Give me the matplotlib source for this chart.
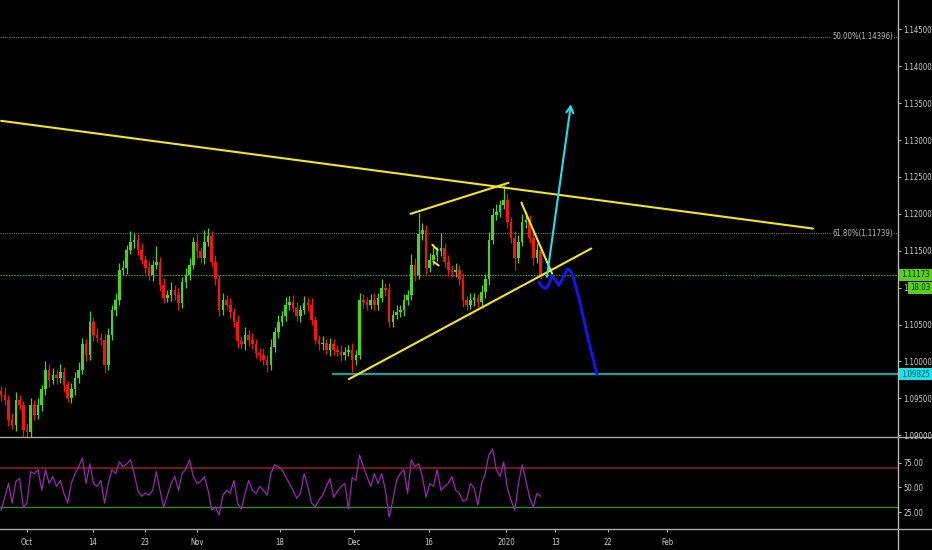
import matplotlib
matplotlib.use("Agg")
import matplotlib.pyplot as plt
import matplotlib.transforms as mtransforms
from matplotlib.patches import Rectangle
from matplotlib.lines import Line2D
import numpy as np

plt.rcParams["font.family"] = ["DejaVu Sans"]
plt.rcParams["font.stretch"] = "condensed"

# ---------------- data ----------------
first_open = 1.0960
closes = [
    1.0955, 1.0948, 1.0921, 1.0914, 1.0948, 1.0941, 1.0907, 1.0904, 1.0941, 1.0928,
    1.0941, 1.0962, 1.0989, 1.0975, 1.0982, 1.0978, 1.0986, 1.0968, 1.0951, 1.0962,
    1.0978, 1.0989, 1.1023, 1.1009, 1.1054, 1.1036, 1.1032, 1.1029, 1.0995, 1.1036,
    1.1070, 1.1083, 1.1124, 1.1127, 1.1151, 1.1162, 1.1165, 1.1151, 1.1138, 1.1127,
    1.1117, 1.1131, 1.1135, 1.1104, 1.1086, 1.1090, 1.1097, 1.1090, 1.1079, 1.1108,
    1.1117, 1.1131, 1.1162, 1.1149, 1.1140, 1.1162, 1.1170, 1.1135, 1.1111, 1.1070,
    1.1083, 1.1077, 1.1067, 1.1054, 1.1027, 1.1023, 1.1036, 1.1029, 1.1023, 1.1012,
    1.1009, 1.1002, 1.0995, 1.1020, 1.1040, 1.1054, 1.1062, 1.1077, 1.1081, 1.1073,
    1.1062, 1.1070, 1.1079, 1.1077, 1.1056, 1.1029, 1.1023, 1.1025, 1.1016, 1.1023,
    1.1016, 1.1013, 1.1009, 1.1013, 1.1016, 1.1002, 1.1009, 1.1083, 1.1081, 1.1077,
    1.1083, 1.1077, 1.1086, 1.1100, 1.1097, 1.1054, 1.1063, 1.1067, 1.1070, 1.1083,
    1.1090, 1.1131, 1.1117, 1.1172, 1.1178, 1.1127, 1.1138, 1.1144, 1.1149, 1.1154,
    1.1135, 1.1124, 1.1121, 1.1124, 1.1111, 1.1083, 1.1077, 1.1083, 1.1086, 1.1081,
    1.1094, 1.1111, 1.1165, 1.1199, 1.1203, 1.1212, 1.1219, 1.1189, 1.1167, 1.1140,
    1.1162, 1.1189, 1.1192, 1.1167, 1.1140, 1.1151, 1.11173,
]
# wick lengths in pips above / below the candle body
upper_wick_pips = [
    7, 10, 6, 9, 11, 7, 6, 9, 10, 7,
    9, 6, 11, 7, 9, 6, 10, 7, 6, 9,
    7, 10, 9, 7, 14, 6, 9, 7, 10, 9,
    7, 10, 9, 11, 7, 15, 9, 7, 10, 6,
    9, 7, 22, 6, 9, 7, 10, 6, 9, 7,
    10, 9, 7, 10, 6, 16, 11, 7, 9, 6,
    10, 7, 9, 6, 9, 7, 10, 6, 9, 7,
    6, 9, 7, 10, 7, 9, 6, 10, 7, 9,
    7, 6, 10, 7, 9, 6, 7, 10, 6, 9,
    7, 6, 9, 7, 6, 9, 7, 10, 9, 6,
    9, 10, 7, 11, 6, 9, 7, 10, 6, 9,
    7, 14, 9, 29, 10, 7, 9, 11, 6, 20,
    7, 9, 6, 10, 7, 9, 6, 10, 7, 6,
    9, 7, 11, 9, 10, 7, 20, 9, 7, 10,
    9, 11, 10, 7, 9, 10, 5,
]
lower_wick_pips = [
    8, 7, 9, 6, 8, 7, 9, 6, 7, 8,
    6, 8, 7, 9, 6, 8, 7, 9, 6, 7,
    8, 7, 6, 9, 7, 8, 6, 7, 11, 6,
    7, 8, 6, 7, 9, 6, 8, 7, 6, 9,
    7, 8, 6, 9, 7, 6, 8, 7, 9, 6,
    8, 7, 6, 9, 7, 8, 6, 7, 8, 9,
    7, 6, 8, 7, 9, 6, 7, 8, 6, 7,
    8, 7, 9, 6, 7, 8, 6, 7, 8, 6,
    7, 8, 6, 9, 7, 6, 8, 7, 6, 8,
    7, 6, 8, 7, 6, 17, 7, 6, 8, 7,
    6, 8, 7, 6, 9, 7, 8, 6, 7, 8,
    6, 7, 8, 6, 7, 8, 6, 7, 8, 6,
    7, 8, 6, 7, 8, 9, 7, 6, 8, 7,
    6, 8, 7, 6, 8, 7, 6, 8, 7, 16,
    7, 6, 8, 7, 9, 7, 6,
]
rsi_values = [
    27, 40, 54, 34, 56, 59, 30, 34, 66, 64,
    68, 47, 68, 54, 61, 51, 57, 44, 34, 54,
    64, 71, 80, 54, 74, 54, 51, 57, 34, 54,
    68, 64, 76, 71, 74, 78, 64, 47, 41, 44,
    42, 47, 66, 47, 30, 42, 54, 61, 47, 64,
    69, 78, 61, 54, 56, 61, 47, 27, 30, 22,
    42, 47, 44, 57, 34, 28, 44, 57, 47, 44,
    51, 47, 42, 64, 73, 71, 68, 61, 54, 47,
    39, 44, 64, 51, 34, 30, 37, 42, 51, 59,
    40, 46, 51, 54, 28, 60, 57, 83, 71, 61,
    51, 64, 54, 64, 47, 20, 37, 57, 64, 68,
    44, 78, 71, 74, 61, 40, 54, 51, 68, 47,
    51, 54, 61, 47, 44, 36, 38, 54, 49, 32,
    54, 64, 83, 89, 68, 61, 76, 49, 37, 27,
    54, 73, 57, 40, 30, 44, 41,
]

date_tick_pos = [7.0, 24.8, 38.9, 53.0, 75.4, 95.4, 115.7, 136.7, 150.0, 164.3, 180.2]
date_tick_labels = ["Oct", "14", "23", "Nov", "18", "Dec", "16", "2020", "13", "22", "Feb"]
price_ticks = [1.090, 1.095, 1.100, 1.105, 1.110, 1.115, 1.120, 1.125, 1.130, 1.135, 1.140, 1.145]
rsi_ticks = [25, 50, 75]
rsi_upper, rsi_lower = 70, 30

last_price = 1.11173
support_price = 1.09825
support_start = 89.7
fib_levels = [1.14396, 1.11739]
fib_labels = ["50.00%(1.14396)", "61.80%(1.11739)"]
countdown_text = "18:03"
countdown_price = 1.1100

# drawn trend lines (bar index, price)
long_trend = ([0.0, 219.7], [1.1326, 1.1180])
upper_channel = ([110.8, 137.3], [1.1200, 1.1242])
lower_channel = ([94.1, 159.7], [1.0976, 1.1153])
short_down = ([140.8, 149.1], [1.1215, 1.1119])
flag_a = ([116.7, 118.1], [1.1158, 1.1151])
flag_b = ([117.0, 118.4], [1.1135, 1.1130])
bull_arrow = ([147.6, 154.3], [1.1111, 1.1352])
bear_path_x = [145.5, 146.2, 147.3, 148.1, 149.1, 150.0, 150.9, 151.9, 153.3, 154.2, 154.9, 156.8, 158.9, 161.3]
bear_path_y = [1.11075, 1.11024, 1.10984, 1.11038, 1.11150, 1.11106, 1.11028, 1.11119,
               1.11255, 1.11221, 1.11129, 1.10767, 1.10293, 1.09818]

# ---------------- figure ----------------
W, H = 932, 550
fig = plt.figure(figsize=(W / 100, H / 100), dpi=100, facecolor="black")
right_px, sep1_px, sep2_px = 898, 437, 529
ax = fig.add_axes([0, (H - sep1_px) / H, right_px / W, sep1_px / H], facecolor="black")
axr = fig.add_axes([0, (H - sep2_px) / H, right_px / W, (sep2_px - sep1_px - 1) / H],
                   facecolor="black", sharex=ax)

GREEN = "#4cd41c"
RED = "#f2160d"
YELLOW = "#f5e61a"
TXT = "#d0d0d0"
FS = 5.6

n = len(closes)
x = np.arange(n)
opens = [first_open] + closes[:-1]
o = np.array(opens)
c = np.array(closes)
top = np.maximum(o, c)
bot = np.minimum(o, c)
hi = top + np.array(upper_wick_pips) * 0.0001
lo = bot - np.array(lower_wick_pips) * 0.0001
cols = [GREEN if cc >= oo else RED for oo, cc in zip(o, c)]

ax.vlines(x, lo, hi, colors=cols, lw=0.9, zorder=3)
ax.bar(x, np.maximum(top - bot, 0.00005), bottom=bot, width=0.7, color=cols, lw=0, zorder=3)

# horizontal reference lines
blend = mtransforms.blended_transform_factory(ax.transAxes, ax.transData)
for lvl, lab in zip(fib_levels, fib_labels):
    ax.axhline(lvl, color="#6e6e6e", lw=0.8, ls=(0, (1, 1)), zorder=1)
    ax.text(0.9944, lvl, lab, transform=blend,
            ha="right", va="center", fontsize=FS, color="#bdbdbd", zorder=5,
            bbox=dict(facecolor="black", edgecolor="none", pad=0.6))
ax.axhline(last_price, color="#3f9a1c", lw=0.8, ls=(0, (1.5, 1)), zorder=2)
ax.plot([support_start, 260], [support_price, support_price], color="#1f9c9c", lw=1.6, zorder=4)

# trend lines
for seg in (long_trend, upper_channel, lower_channel, short_down, flag_a, flag_b):
    ax.plot(seg[0], seg[1], color=YELLOW, lw=1.5, zorder=5, solid_capstyle="round")
ax.annotate("", xy=(bull_arrow[0][1], bull_arrow[1][1]), xytext=(bull_arrow[0][0], bull_arrow[1][0]),
            arrowprops=dict(arrowstyle="->,head_length=0.45,head_width=0.25", color="#22dff0", lw=1.5),
            zorder=6)
ax.plot(bear_path_x, bear_path_y, color="#1414ff", lw=2.0, zorder=6,
        solid_joinstyle="round", solid_capstyle="round")

xlim = (-0.3, right_px / 3.7)
ax.set_xlim(*xlim)
ax.set_ylim(1.08976, 1.14897)
ax.yaxis.tick_right()
ax.set_yticks(price_ticks)
ax.set_yticklabels([f"{v:.5f}" for v in price_ticks])
ax.tick_params(axis="y", length=2.5, width=0.7, colors="#bdbdbd", labelcolor=TXT, labelsize=FS, pad=1.2)
ax.tick_params(axis="x", bottom=False, labelbottom=False)
for s in ax.spines.values():
    s.set_visible(False)

# RSI
axr.plot(x, rsi_values, color="#9b27b0", lw=0.9, zorder=3)
axr.axhline(rsi_upper, color="#8b1c1c", lw=1.2, zorder=2)
axr.axhline(rsi_lower, color="#2e8b34", lw=1.0, zorder=2)
axr.set_ylim(7.8, 100.1)
axr.yaxis.tick_right()
axr.set_yticks(rsi_ticks)
axr.set_yticklabels([f"{v:.2f}" for v in rsi_ticks])
axr.tick_params(axis="y", length=2.5, width=0.7, colors="#bdbdbd", labelcolor=TXT, labelsize=FS, pad=1.2)
axr.set_xticks(date_tick_pos)
axr.set_xticklabels(date_tick_labels)
axr.tick_params(axis="x", length=2.5, width=0.7, colors="#bdbdbd", labelcolor=TXT, labelsize=FS, pad=4)
axr.set_xlim(*xlim)
for s in axr.spines.values():
    s.set_visible(False)

# price label boxes on the right axis
bt = mtransforms.blended_transform_factory(fig.transFigure, ax.transData)
hh = 6 / 7380.0
def price_box(x0px, price, text, face, tcol):
    r = Rectangle((x0px / W, price - hh), (W - x0px) / W, 2 * hh, transform=bt,
                  facecolor=face, edgecolor="none", zorder=10, clip_on=False)
    fig.add_artist(r)
    t = fig.text((x0px + (W - x0px) / 2) / W, price, text, ha="center", va="center",
                 fontsize=FS, color=tcol, zorder=11)
    t.set_transform(bt)
price_box(right_px + 1, last_price, "1.11173", "#58cf1e", "#0d2a05")
price_box(908, countdown_price, countdown_text, "#58cf1e", "#0d2a05")
price_box(right_px + 1, support_price, "1.09825", "#12e6f5", "#04393d")

# separators
fig.add_artist(Line2D([right_px / W, right_px / W], [0, 1], transform=fig.transFigure, color="#b8b8b8", lw=1.0, zorder=9))
for ypx in (sep1_px, sep2_px):
    fig.add_artist(Line2D([0, 1], [(H - ypx) / H, (H - ypx) / H], transform=fig.transFigure,
                          color="#a8a8a8", lw=1.0, zorder=9))

fig.savefig("out.png", dpi=100, facecolor="black")
